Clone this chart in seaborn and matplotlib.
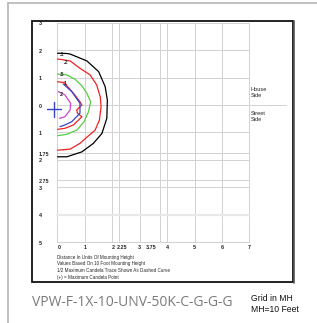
import matplotlib
matplotlib.use("Agg")
import matplotlib.pyplot as plt
import seaborn as sns
import pandas as pd
from matplotlib.patches import Rectangle
from matplotlib.lines import Line2D

sns.set_theme(style="white")
plt.rcParams['font.family'] = ['Liberation Sans', 'DejaVu Sans']

# ---- data (units of mounting height) ----
c01_x = [0, 0.34, 0.46, 1.07, 1.5, 1.74, 1.82, 1.8, 1.62, 1.31, 0.89, 0.34, 0]
c01_y = [1.89, 1.88, 1.86, 1.61, 1.22, 0.67, 0.18, -0.49, -1.04, -1.4, -1.71, -1.89, -1.89]
c02_x = [0, 0.46, 0.82, 1.19, 1.43, 1.56, 1.59, 1.53, 1.37, 1.09, 0.82, 0.46, 0]
c02_y = [1.68, 1.61, 1.34, 1.1, 0.73, 0.3, -0.06, -0.55, -0.92, -1.16, -1.4, -1.61, -1.65]
c05_x = [0, 0.34, 0.64, 0.89, 1.07, 1.21, 1.13, 0.97, 0.7, 0.34, 0]
c05_y = [1.13, 1.1, 0.94, 0.7, 0.43, 0.12, -0.25, -0.61, -0.92, -1.07, -1.12]
c1_x = [0, 0.24, 0.58, 0.82, 0.89, 0.7, 0.73, 0.89, 0.58, 0.27, 0]
c1_y = [0.85, 0.82, 0.43, 0.12, 0.0, -0.18, -0.3, -0.43, -0.73, -0.85, -0.89]
half_x = [0.21, 0.52, 0.82, 0.82, 0.52, 0.27, 0.09]
half_y = [0.77, 0.49, 0.06, -0.3, -0.61, -0.73, -0.79]
c2_x = [0.03, 0.27, 0.48, 0.46, 0.27, 0.07]
c2_y = [0.49, 0.37, 0.06, -0.18, -0.43, -0.49]
max_pt = (-0.12, -0.16)

contour_labels = [".1", ".2", ".5", "1", "2"]
label_x = [0.07, 0.24, 0.07, 0.21, 0.09]
label_y = [1.83, 1.55, 1.1, 0.79, 0.37]

ytick_vals = [3, 2, 1, 0, -1, -1.75, -2, -2.75, -3, -4, -5]
ytick_text = ["3", "2", "1", "0", "1", "1.75", "2", "2.75", "3", "4", "5"]
xtick_vals = [0, 1, 2, 2.25, 3, 3.75, 4, 5, 6, 7]
xtick_text = ["0", "1", "2", "2.25", "3", "3.75", "4", "5", "6", "7"]
xtick_pos = [0.07, 1.0, 2.03, 2.36, 3.0, 3.43, 4.02, 5.0, 6.0, 7.0]

notes = ["Distance In Units Of Mounting Height",
         "Values Based On 10 Foot Mounting Height",
         "1/2 Maximum Candela Trace Shown As Dashed Curve",
         "(+) = Maximum Candela Point"]
title = "VPW-F-1X-10-UNV-50K-C-G-G-G"

W, H = 317, 323
fig = plt.figure(figsize=(W / 100, H / 100), dpi=100)
ax = fig.add_axes([0, 0, 1, 1])
ax.set_axis_off()

U = 27.4
X0, Y0 = 57.5, 105.0

def fx(px):
    return px / W
def fy(py):
    return 1 - py / H

fig.add_artist(Line2D([fx(8), fx(317)], [fy(3), fy(3)], color="#b5b5b5", lw=1.2))
fig.add_artist(Line2D([fx(8), fx(8)], [fy(3), fy(323)], color="#b5b5b5", lw=1.2))
fig.add_artist(Rectangle((fx(32), fy(282)), fx(293) - fx(32), fy(20.7) - fy(282),
                         fill=False, edgecolor="#111111", lw=1.3))
fig.add_artist(Line2D([fx(293.5), fx(293.5)], [fy(21), fy(282.5)], color="#555555", lw=1.2))

grid_c = "#d2d2d2"
for xv in xtick_vals:
    ax.plot([xv, xv], [-5, 3], color=grid_c, lw=0.7, zorder=1)
for yv in ytick_vals:
    x_end = 8.34 if yv == 0 else 7
    lw = 1.6 if yv == -4 else 0.7
    col = "#e8e8e8" if yv == -4 else grid_c
    ax.plot([0, x_end], [yv, yv], color=col, lw=lw, zorder=1)

series = [(c01_x, c01_y, "black"), (c02_x, c02_y, "#ee2222"), (c05_x, c05_y, "#55cc44"),
          (c1_x, c1_y, "#ee2222"), (half_x, half_y, "#3344cc"), (c2_x, c2_y, "#cc44cc")]
for xs, ys, col in series:
    df = pd.DataFrame({"x": xs, "y": ys})
    sns.lineplot(data=df, x="x", y="y", sort=False, estimator=None, color=col,
                 lw=0.9, ax=ax, zorder=3)

ax.plot([max_pt[0] - 0.26, max_pt[0] + 0.26], [max_pt[1], max_pt[1]], color="#3344cc", lw=1.0, zorder=4)
ax.plot([max_pt[0], max_pt[0]], [max_pt[1] - 0.26, max_pt[1] + 0.26], color="#3344cc", lw=1.0, zorder=4)

for t, lx, ly in zip(contour_labels, label_x, label_y):
    ax.text(lx, ly, t, fontsize=4.0, fontweight="bold", ha="left", va="center", zorder=5)

ax.set_axis_off()
ax.set_xlim(-X0 / U, (W - X0) / U)
ax.set_ylim((Y0 - H) / U, Y0 / U)

for v, t in zip(ytick_vals, ytick_text):
    ax.text(-0.68, v - 0.04, t, fontsize=3.9, fontweight="bold", ha="left", va="center")
for p, t in zip(xtick_pos, xtick_text):
    ax.text(p, -5.2, t, fontsize=3.9, fontweight="bold", ha="center", va="center")

for i, n in enumerate(notes):
    ax.text(0.0, -5.55 - i * 0.25, n, fontsize=3.3, ha="left", va="center")

ax.text(7.05, 0.45, "House\nSide", fontsize=4.1, ha="left", va="center", linespacing=1.1)
ax.text(7.05, -0.42, "Street\nSide", fontsize=4.1, ha="left", va="center", linespacing=1.1)

fig.text(fx(32), fy(303), title, fontsize=10.0, color="#7a7a7a", ha="left", va="center",
         family=["Open Sans", "DejaVu Sans"])
fig.text(fx(251), fy(304), "Grid in MH\nMH=10 Feet", fontsize=6.2, color="#111111",
         ha="left", va="center", linespacing=1.15)

fig.savefig("out.png", dpi=100)
